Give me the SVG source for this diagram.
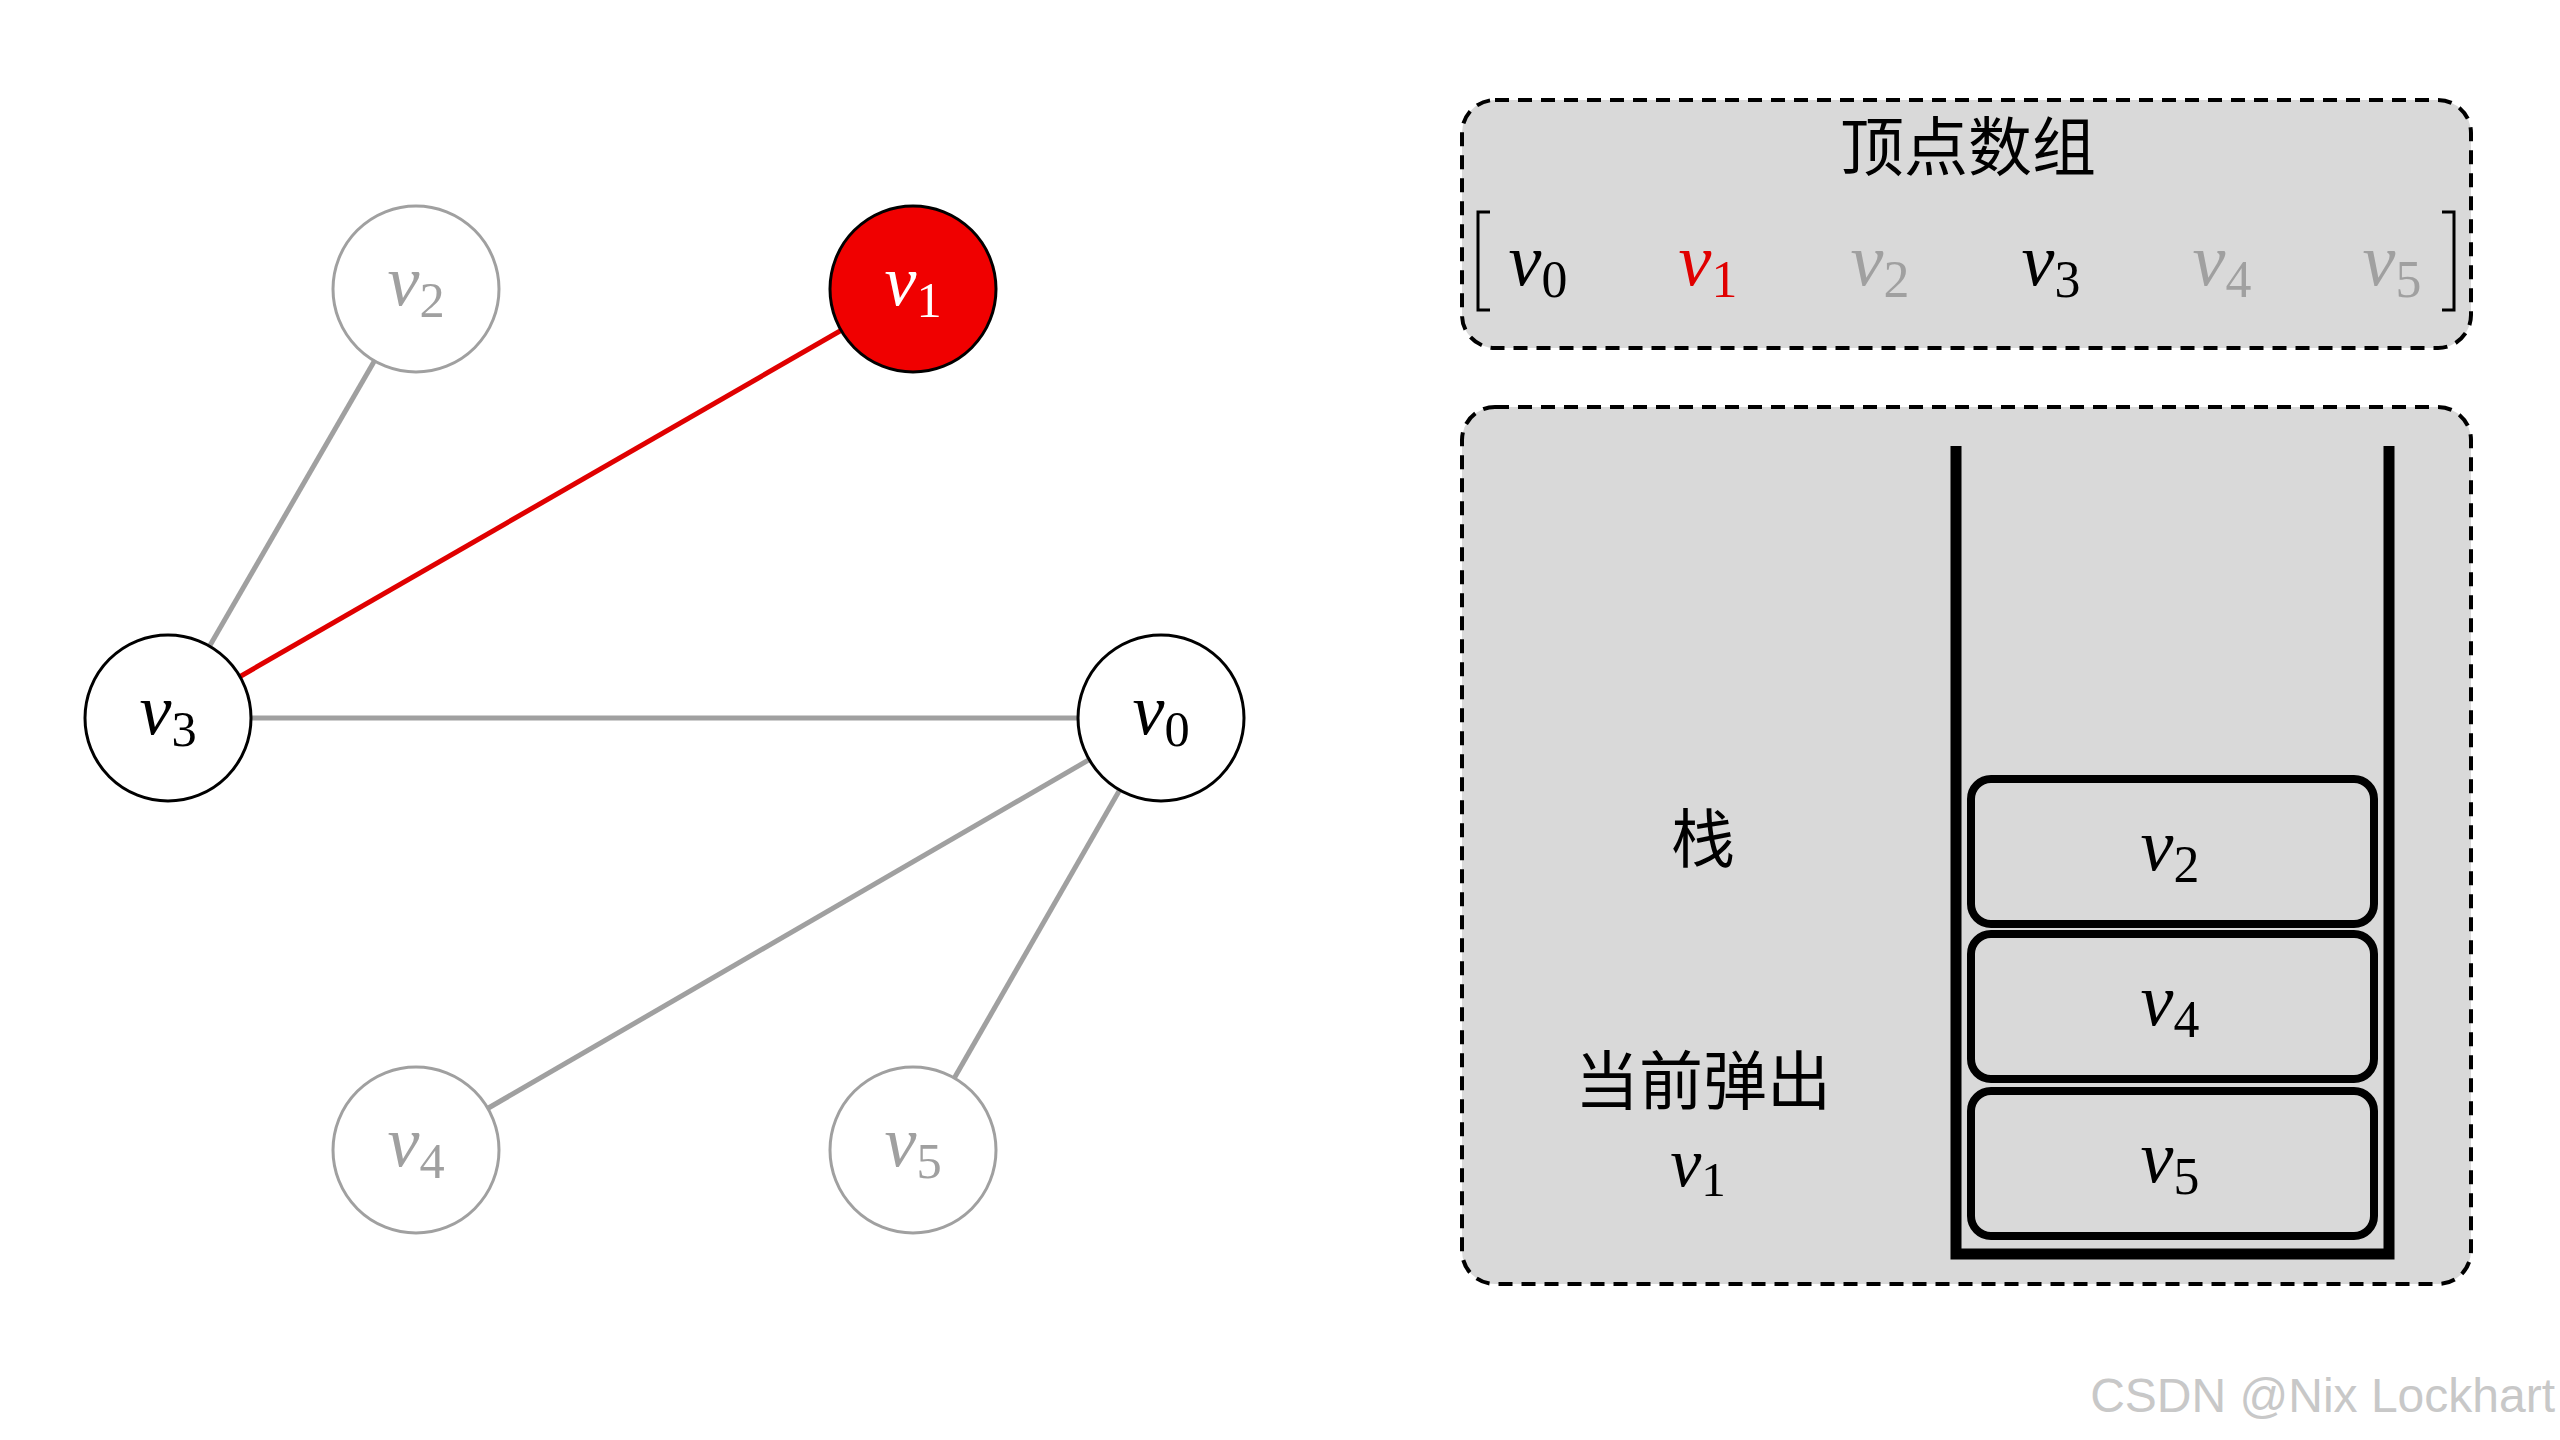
<svg xmlns="http://www.w3.org/2000/svg" width="2560" height="1440" viewBox="0 0 2560 1440">
<style>
.m{font-family:"Liberation Serif","DejaVu Serif",serif;font-style:italic;text-anchor:middle}
.s{font-style:normal;font-size:0.7em}
.cn{font-family:"Noto Sans CJK SC",sans-serif;text-anchor:middle;font-size:64px;fill:#000}
.box{fill:#d9d9d9;stroke:#000;stroke-width:4;stroke-dasharray:14 9}
.g{stroke:#a0a0a0;stroke-width:5}
.cell{fill:none;stroke:#000;stroke-width:8}
</style>
<rect width="2560" height="1440" fill="#fff"/>
<g id="connectors">
<line class="g" x1="416" y1="289" x2="168" y2="718"/>
<line x1="913" y1="289" x2="168" y2="718" stroke="#e00000" stroke-width="5"/>
<line class="g" x1="168" y1="718" x2="1161" y2="718"/>
<line class="g" x1="1161" y1="718" x2="416" y2="1150"/>
<line class="g" x1="1161" y1="718" x2="913" y2="1150"/>
</g>
<g id="v2"><circle cx="416" cy="289" r="83" fill="#fff" stroke="#a0a0a0" stroke-width="3"/><text class="m" x="416" y="305" font-size="72" fill="#a0a0a0">v<tspan class="s" dy="12">2</tspan></text></g>
<g id="v1"><circle cx="913" cy="289" r="83" fill="#f00000" stroke="#000" stroke-width="3"/><text class="m" x="913" y="305" font-size="72" fill="#fff">v<tspan class="s" dy="12">1</tspan></text></g>
<g id="v3"><circle cx="168" cy="718" r="83" fill="#fff" stroke="#000" stroke-width="3"/><text class="m" x="168" y="734" font-size="72">v<tspan class="s" dy="12">3</tspan></text></g>
<g id="v0"><circle cx="1161" cy="718" r="83" fill="#fff" stroke="#000" stroke-width="3"/><text class="m" x="1161" y="734" font-size="72">v<tspan class="s" dy="12">0</tspan></text></g>
<g id="v4"><circle cx="416" cy="1150" r="83" fill="#fff" stroke="#a0a0a0" stroke-width="3"/><text class="m" x="416" y="1166" font-size="72" fill="#a0a0a0">v<tspan class="s" dy="12">4</tspan></text></g>
<g id="v5"><circle cx="913" cy="1150" r="83" fill="#fff" stroke="#a0a0a0" stroke-width="3"/><text class="m" x="913" y="1166" font-size="72" fill="#a0a0a0">v<tspan class="s" dy="12">5</tspan></text></g>
<g id="array">
<rect class="box" x="1462" y="100" width="1009" height="248" rx="33"/>
<text class="cn" x="1968" y="170">顶点数组</text>
<path d="M1490 212 H1478 V310 H1490 M2442 212 H2454 V310 H2442" fill="none" stroke="#000" stroke-width="3"/>
<g font-size="74">
<text class="m" x="1538" y="285">v<tspan class="s" dy="12">0</tspan></text>
<text class="m" x="1708" y="285" fill="#e00000">v<tspan class="s" dy="12">1</tspan></text>
<text class="m" x="1880" y="285" fill="#a0a0a0">v<tspan class="s" dy="12">2</tspan></text>
<text class="m" x="2051" y="285">v<tspan class="s" dy="12">3</tspan></text>
<text class="m" x="2222" y="285" fill="#a0a0a0">v<tspan class="s" dy="12">4</tspan></text>
<text class="m" x="2392" y="285" fill="#a0a0a0">v<tspan class="s" dy="12">5</tspan></text>
</g>
</g>
<g id="stack">
<rect class="box" x="1462" y="407" width="1009" height="877" rx="33"/>
<path d="M1956 446 V1254 H2389 V446" fill="none" stroke="#000" stroke-width="11"/>
<rect class="cell" x="1971" y="779" width="403" height="145" rx="20"/>
<rect class="cell" x="1971" y="934" width="403" height="145" rx="20"/>
<rect class="cell" x="1971" y="1091" width="403" height="145" rx="20"/>
<text class="m" x="2170" y="870" font-size="74">v<tspan class="s" dy="12">2</tspan></text>
<text class="m" x="2170" y="1025" font-size="74">v<tspan class="s" dy="12">4</tspan></text>
<text class="m" x="2170" y="1182" font-size="74">v<tspan class="s" dy="12">5</tspan></text>
<text class="cn" x="1703" y="862">栈</text>
<text class="cn" x="1703" y="1104">当前弹出</text>
<text class="m" x="1698" y="1186" font-size="70">v<tspan class="s" dy="10">1</tspan></text>
</g>
<text x="2555" y="1412" font-family="Liberation Sans,sans-serif" font-size="48" fill="#c8c8c8" text-anchor="end">CSDN @Nix Lockhart</text>
</svg>
